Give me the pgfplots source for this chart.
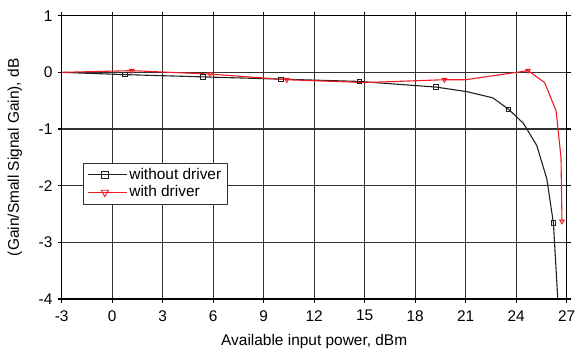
\documentclass[border=0pt]{standalone}
\usepackage{pgfplots}
\pgfplotsset{compat=1.18}
\usepackage{fontspec}
\setmainfont{Liberation Sans}
\definecolor{myred}{RGB}{237,28,36}
\definecolor{myblack}{RGB}{35,31,32}
\definecolor{mygrid}{RGB}{50,50,50}
\begin{document}
\fontsize{15.5}{17}\selectfont
\begin{tikzpicture}[x=1bp,y=1bp]
\begin{axis}[
  name=ax,
  scale only axis,
  width=505bp, height=283.3bp,
  xmin=-3, xmax=27, ymin=-4, ymax=1,
  xtick={-3,0,...,27}, ytick={-4,-3,...,1},
  grid=major,
  major grid style={color=mygrid, line width=1.1pt},
  axis line style={line width=1.1pt, black},
  tick style={line width=1.1pt, black},
  tick align=outside,
  major tick length=4bp,
  /pgf/number format/assume math mode=true,
  ticklabel style={font=\fontsize{15.5}{17}\selectfont},
  xticklabel style={yshift=-2bp},
  label style={font=\fontsize{15.5}{17}\selectfont},
  xlabel={Available input power, dBm},
  ylabel={(Gain/Small Signal Gain), dB},
  xlabel style={at={(rel axis cs:0.5,0)}, yshift=-42.5bp, anchor=center},
  ylabel style={at={(rel axis cs:0,0.5)}, rotate=0, yshift=46.7bp, anchor=center},
  legend style={at={(rel axis cs:0.042,0.481)}, anchor=north west,
     draw=mygrid, line width=0.8pt, font=\fontsize{15.5}{17}\selectfont,
     inner xsep=4bp, inner ysep=3bp, row sep=0bp, text depth=0.2em},
  legend cell align=left,
  clip=true,
]
\addplot[color=myblack, line width=1.1pt, mark=square, mark size=2.2pt,
  mark options={solid, fill=white, line width=0.9pt},
  mark indices={2,3,4,5,6,9,13},
  legend image code/.code={\path (-2bp,0bp) -- (37bp,0bp); \draw[mark indices={2}, mark size=3.6pt] plot coordinates {(0bp,0bp) (15bp,0bp) (30bp,0bp)};}
  ] coordinates {
(-3,0) (0.76,-0.04) (5.40,-0.08) (10.03,-0.12) (14.68,-0.16) (19.24,-0.26)
(21.06,-0.34) (22.61,-0.45) (23.54,-0.65) (24.43,-0.90) (25.22,-1.29)
(25.82,-1.88) (26.21,-2.66) (26.47,-4.0)
};
\addlegendentry{without driver\hspace{6bp}}
\addplot[color=myred, line width=1.1pt, mark=triangle, mark size=2.6pt,
  mark options={solid, rotate=180, fill=white, line width=0.9pt},
  mark indices={2,3,4,6,8,12},
  legend image code/.code={\path (-2bp,0bp) -- (37bp,0bp); \draw[mark indices={2}, mark size=4.2pt] plot coordinates {(0bp,0bp) (15bp,0bp) (30bp,0bp)};}
  ] coordinates {
(-3,0) (1.16,0.03) (5.81,-0.03) (10.37,-0.13) (15.02,-0.18) (19.73,-0.13)
(21.0,-0.13) (24.70,0.03) (25.69,-0.18) (26.37,-0.68) (26.66,-1.50) (26.72,-2.63)
};
\addlegendentry{with driver}
\end{axis}
\pgfresetboundingbox
\path ([xshift=-61.7bp,yshift=-55bp]ax.south west) rectangle ([xshift=8.3bp,yshift=15.7bp]ax.north east);
\end{tikzpicture}
\end{document}
